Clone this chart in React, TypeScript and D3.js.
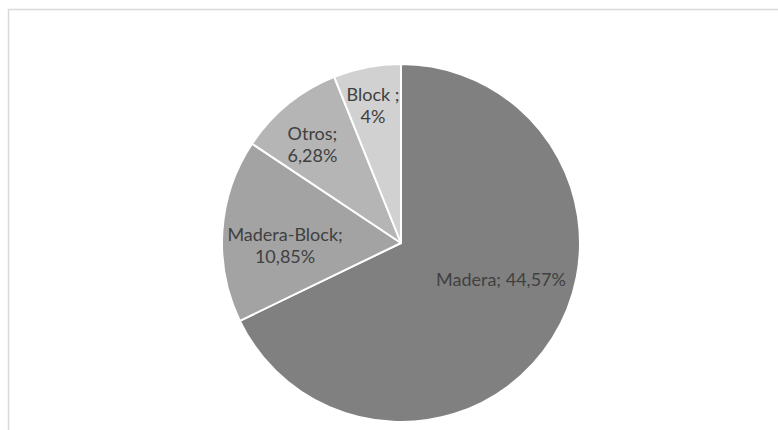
import { arc, pie, PieArcDatum } from "d3";

const categories = ["Madera", "Madera-Block", "Otros", "Block"];
const values = [44.57, 10.85, 6.28, 4];
const labelLines = [["Madera; 44,57%"], ["Madera-Block;", "10,85%"], ["Otros;", "6,28%"], ["Block ;", "4%"]];

const colors = ["#808080", "#a3a3a3", "#b5b5b5", "#d1d1d1"];
// label placement tweaks (fraction of radius, angle shift in degrees), Excel "best fit"-ish
const labelPlace = [
  { r: 0.595, da: -12 },
  { r: 0.648, da: -5.5 },
  { r: 0.739, da: -2.9 },
  { r: 0.781, da: -0.6 },
];

export default function App() {
  const width = 778;
  const height = 430;
  const cx = 401;
  const cy = 243;
  const radius = 179;
  const fontSize = 18;
  const lineH = 22;

  const slices = pie<number>().sort(null).value(d => d)(values);
  const arcGen = arc<PieArcDatum<number>>().innerRadius(0).outerRadius(radius);

  return (
    <svg
      width={width}
      height={height}
      style={{ position: "absolute", left: 0, top: 0, background: "#fff" }}
      fontFamily="Lato, 'Open Sans', sans-serif"
    >
      <rect x={8.5} y={9.5} width={width + 20} height={height + 20} fill="#fff" stroke="#d9d9d9" strokeWidth={1.5} />
      <g transform={`translate(${cx},${cy})`}>
        {slices.map((s, i) => (
          <path key={categories[i]} d={arcGen(s) as string} fill={colors[i]} stroke="#fff" strokeWidth={2} strokeLinejoin="round" />
        ))}
        {slices.map((s, i) => {
          const mid = (s.startAngle + s.endAngle) / 2 + (labelPlace[i].da * Math.PI) / 180;
          const r = radius * labelPlace[i].r;
          const x = r * Math.sin(mid);
          const y = -r * Math.cos(mid);
          const lines = labelLines[i];
          const y0 = y - ((lines.length - 1) * lineH) / 2;
          return (
            <text key={categories[i]} textAnchor="middle" fill="#404040" fontSize={fontSize}>
              {lines.map((t, j) => (
                <tspan key={j} x={x} y={y0 + j * lineH} dy="0.35em">
                  {t}
                </tspan>
              ))}
            </text>
          );
        })}
      </g>
    </svg>
  );
}
